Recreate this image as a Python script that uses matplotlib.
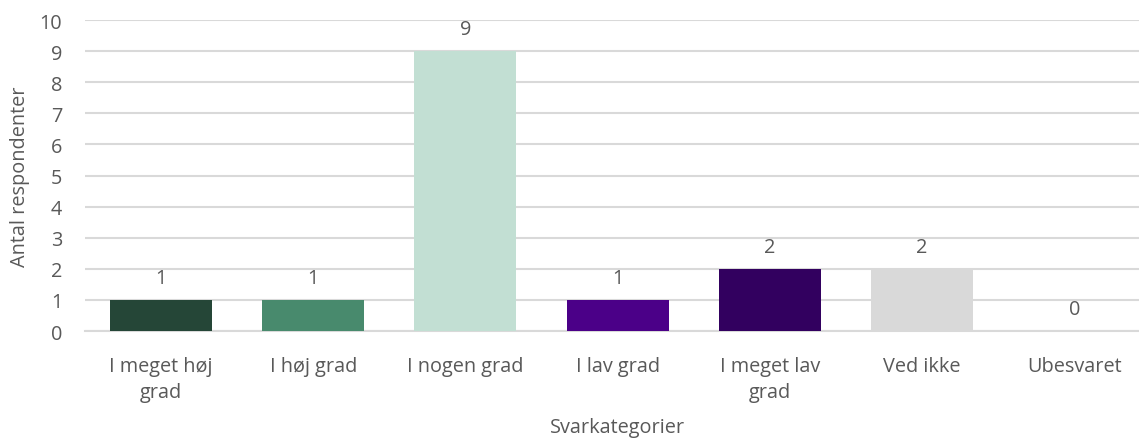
import matplotlib
matplotlib.use("Agg")
import matplotlib.pyplot as plt

categories = ["I meget høj\ngrad", "I høj grad", "I nogen grad", "I lav grad",
              "I meget lav\ngrad", "Ved ikke", "Ubesvaret"]
values = [1, 1, 9, 1, 2, 2, 0]
colors = ["#254637", "#488A6D", "#C2DFD3", "#4B0088", "#32005F", "#D9D9D9", "#D9D9D9"]
yticks = list(range(0, 11))

plt.rcParams['font.family'] = ['Open Sans', 'DejaVu Sans']
text_color = "#595959"
fs = 14.3

fig = plt.figure(figsize=(11.39, 4.39), dpi=100)
ax = fig.add_axes([0.0746, 0.2437, 0.9354, 0.7084])

x = list(range(len(categories)))
ax.bar(x, values, width=0.67, color=colors, zorder=3)
for xi, v in zip(x, values):
    ax.annotate(str(v), (xi, v), xytext=(0, 8.5), textcoords="offset points",
                ha="center", va="bottom", fontsize=fs, color=text_color)

ax.set_xlim(-0.5, len(categories) - 0.5)
ax.set_ylim(0, 10)
ax.set_yticks(yticks)
ax.set_xticks(x)
ax.set_xticklabels(categories, fontsize=fs, color=text_color, linespacing=1.39)
ax.tick_params(axis='y', labelsize=fs, labelcolor=text_color, length=0, pad=16.5)
ax.tick_params(axis='x', length=0, pad=18)
ax.grid(axis='y', color="#D9D9D9", linewidth=1.5, zorder=0)
ax.set_axisbelow(True)
for s in ["top", "right", "left"]:
    ax.spines[s].set_visible(False)
ax.spines["bottom"].set_color("#D9D9D9")
ax.spines["bottom"].set_linewidth(1.5)

ax.set_ylabel("Antal respondenter", fontsize=fs, color=text_color, va="center")
ax.yaxis.set_label_coords(-0.061, 0.5)
ax.set_xlabel("Svarkategorier", fontsize=fs, color=text_color, va="center")
ax.xaxis.set_label_coords(0.5, -0.308)

fig.savefig("out.png", dpi=100)
